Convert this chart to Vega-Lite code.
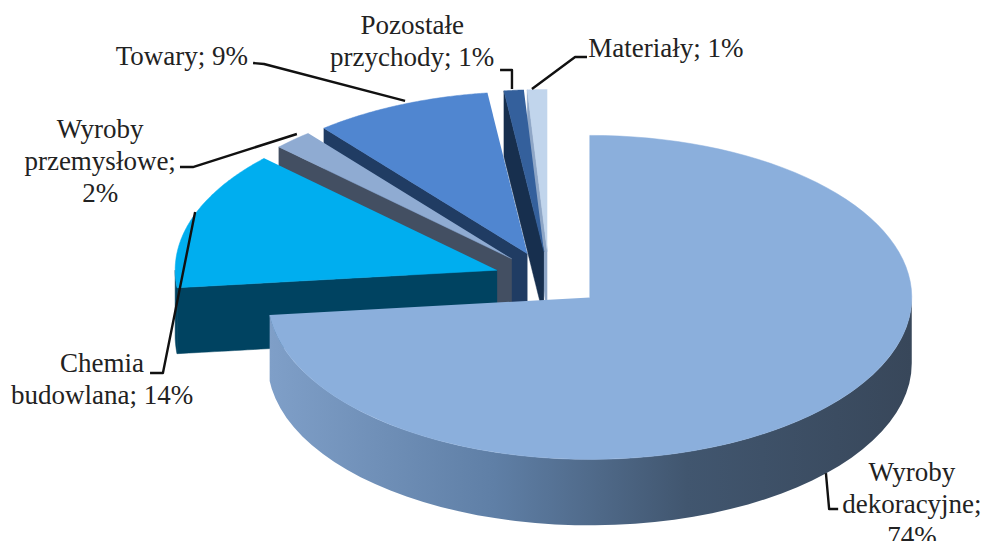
{
  "$schema": "https://vega.github.io/schema/vega-lite/v6.json",
  "width": 982,
  "height": 541,
  "padding": 0,
  "autosize": "none",
  "background": "white",
  "view": {"stroke": null},
  "config": {"style": {"cell": {"stroke": null}}},
  "data": {"values": [
    {"name": "Materiały", "share": 1, "label": "Materiały; 1%"},
    {"name": "Pozostałe przychody", "share": 1, "label": "Pozostałe\nprzychody; 1%"},
    {"name": "Towary", "share": 9, "label": "Towary; 9%"},
    {"name": "Wyroby przemysłowe", "share": 2, "label": "Wyroby\nprzemysłowe;\n2%"},
    {"name": "Chemia budowlana", "share": 14, "label": "Chemia\nbudowlana; 14%"},
    {"name": "Wyroby dekoracyjne", "share": 74, "label": "Wyroby\ndekoracyjne;\n74%"}
  ]},
  "transform": [
    {"joinaggregate": [{"op": "sum", "field": "share", "as": "total"}]},
    {"window": [{"op": "sum", "field": "share", "as": "cum"}], "ignorePeers": true, "frame": [null, 0]},
    {"calculate": "360 * (1 - datum.cum / datum.total)", "as": "a0"},
    {"calculate": "datum.a0 + 360 * datum.share / datum.total", "as": "a1"},
    {"calculate": "(datum.a0 + datum.a1) / 2 * PI / 180", "as": "mid"},
    {"calculate": "0.17 * sin(datum.mid)", "as": "cx"},
    {"calculate": "0.17 * cos(datum.mid)", "as": "cy"}
  ],
  "encoding": {
    "x": {"field": "u", "type": "quantitative", "axis": null, "scale": {"domain": [-1.70497, 1.34472], "nice": false, "zero": false}},
    "y": {"field": "v", "type": "quantitative", "axis": null, "scale": {"domain": [-1.61728, 1.72222], "nice": false, "zero": false}}
  },
  "layer": [
    {
      "transform": [
        {"calculate": "['start', 'outer', 'top']", "as": "part"},
        {"flatten": ["part"]},
        {"calculate": "max(datum.a0, 90)", "as": "lo"},
        {"calculate": "min(datum.a1, 270)", "as": "hi"},
        {"filter": "datum.part !== 'outer' || datum.hi > datum.lo"},
        {"calculate": "sequence(-0.01, 1.005, 0.01)", "as": "t"},
        {"flatten": ["t"]},
        {"calculate": "max(0, min(1, 2.05 * (datum.t <= 0.5 ? datum.t : 1 - datum.t)))", "as": "w"},
        {"calculate": "datum.part === 'top' || datum.t <= 0.5 ? 0 : 0.407", "as": "drop"},
        {"calculate": "(datum.part === 'top' ? datum.a0 + (datum.a1 - datum.a0) * max(datum.t, 0) : datum.part === 'outer' ? datum.lo + (datum.hi - datum.lo) * datum.w : datum.a0) * PI / 180", "as": "ang"},
        {"calculate": "datum.part === 'top' ? (datum.t < 0 ? 0 : 1) : datum.part === 'outer' ? 1 : datum.w", "as": "rad"},
        {"calculate": "datum.cx + datum.rad * sin(datum.ang)", "as": "u"},
        {"calculate": "datum.cy + datum.rad * cos(datum.ang) - datum.drop", "as": "v"},
        {"calculate": "datum.name + '|' + (datum.part === 'top' ? 'top' : 'wall')", "as": "tone"},
        {"calculate": "datum.name + '|' + datum.part", "as": "shape"}
      ],
      "layer": [
        {
          "transform": [{"filter": "datum.name !== 'Wyroby dekoracyjne'"}],
          "mark": {"type": "line", "strokeWidth": 0.5, "interpolate": "linear"},
          "encoding": {
            "detail": {"field": "shape"},
            "order": {"field": "t", "type": "quantitative"},
            "fill": {"field": "tone", "type": "nominal", "legend": null, "scale": {
              "domain": ["Materiały|top", "Materiały|wall", "Pozostałe przychody|top", "Pozostałe przychody|wall", "Towary|top", "Towary|wall", "Wyroby przemysłowe|top", "Wyroby przemysłowe|wall", "Chemia budowlana|top", "Chemia budowlana|wall"],
              "range": ["#c1d5ec", "#8ea6c6", "#34609c", "#172f4e", "#5086d0", "#203c63", "#8fabd2", "#434f62", "#00aeef", "#004361"]
            }},
            "stroke": {"field": "tone", "type": "nominal", "legend": null, "scale": {
              "domain": ["Materiały|top", "Materiały|wall", "Pozostałe przychody|top", "Pozostałe przychody|wall", "Towary|top", "Towary|wall", "Wyroby przemysłowe|top", "Wyroby przemysłowe|wall", "Chemia budowlana|top", "Chemia budowlana|wall"],
              "range": ["#c1d5ec", "#8ea6c6", "#34609c", "#172f4e", "#5086d0", "#203c63", "#8fabd2", "#434f62", "#00aeef", "#004361"]
            }}
          }
        },
        {
          "transform": [{"filter": "datum.name === 'Wyroby dekoracyjne' && datum.part === 'outer'"}],
          "mark": {"type": "line", "strokeWidth": 0, "fill": {"gradient": "linear", "x1": 0, "y1": 0, "x2": 1, "y2": 0, "stops": [
            {"offset": 0, "color": "#7f9fc8"},
            {"offset": 0.35, "color": "#5f7fa6"},
            {"offset": 0.65, "color": "#41566f"},
            {"offset": 1, "color": "#38475a"}
          ]}},
          "encoding": {"order": {"field": "t", "type": "quantitative"}}
        },
        {
          "transform": [{"filter": "datum.name === 'Wyroby dekoracyjne' && datum.part === 'top'"}],
          "mark": {"type": "line", "strokeWidth": 0.5, "stroke": "#8bafdc", "fill": "#8bafdc"},
          "encoding": {"order": {"field": "t", "type": "quantitative"}}
        }
      ]
    },
    {
      "transform": [
        {"calculate": "{'Materiały': [[-0.053, 1.173], [0.081, 1.37], [0.118, 1.37]], 'Pozostałe przychody': [[-0.115, 1.173], [-0.115, 1.29], [-0.152, 1.29]], 'Towary': [[-0.447, 1.099], [-0.885, 1.327], [-0.919, 1.333]], 'Wyroby przemysłowe': [[-0.783, 0.895], [-1.106, 0.691], [-1.146, 0.691]], 'Chemia budowlana': [[-1.099, 0.414], [-1.199, -0.58], [-1.239, -0.58]], 'Wyroby dekoracyjne': [[0.86, -1.198], [0.87, -1.42], [0.898, -1.42]]}[datum.name]", "as": "path"},
        {"calculate": "[0, 1, 2]", "as": "step"},
        {"flatten": ["step"]},
        {"calculate": "datum.path[datum.step][0]", "as": "u"},
        {"calculate": "datum.path[datum.step][1]", "as": "v"}
      ],
      "mark": {"type": "line", "color": "#111111", "strokeWidth": 2.4, "strokeJoin": "round"},
      "encoding": {
        "detail": {"field": "name"},
        "order": {"field": "step", "type": "quantitative"}
      }
    },
    {
      "transform": [
        {"calculate": "{'Materiały': [0.363, 1.42], 'Pozostałe przychody': [-0.425, 1.562], 'Towary': [-1.14, 1.37], 'Wyroby przemysłowe': [-1.394, 0.92], 'Chemia budowlana': [-1.388, -0.525], 'Wyroby dekoracyjne': [1.127, -1.198]}[datum.name]", "as": "spot"},
        {"calculate": "datum.spot[0]", "as": "u"},
        {"calculate": "datum.spot[1]", "as": "v"}
      ],
      "mark": {"type": "text", "font": "Liberation Serif", "fontSize": 27, "lineHeight": 32, "lineBreak": "\n", "align": "center", "baseline": "middle", "color": "#222222"},
      "encoding": {"text": {"field": "label"}}
    }
  ]
}
